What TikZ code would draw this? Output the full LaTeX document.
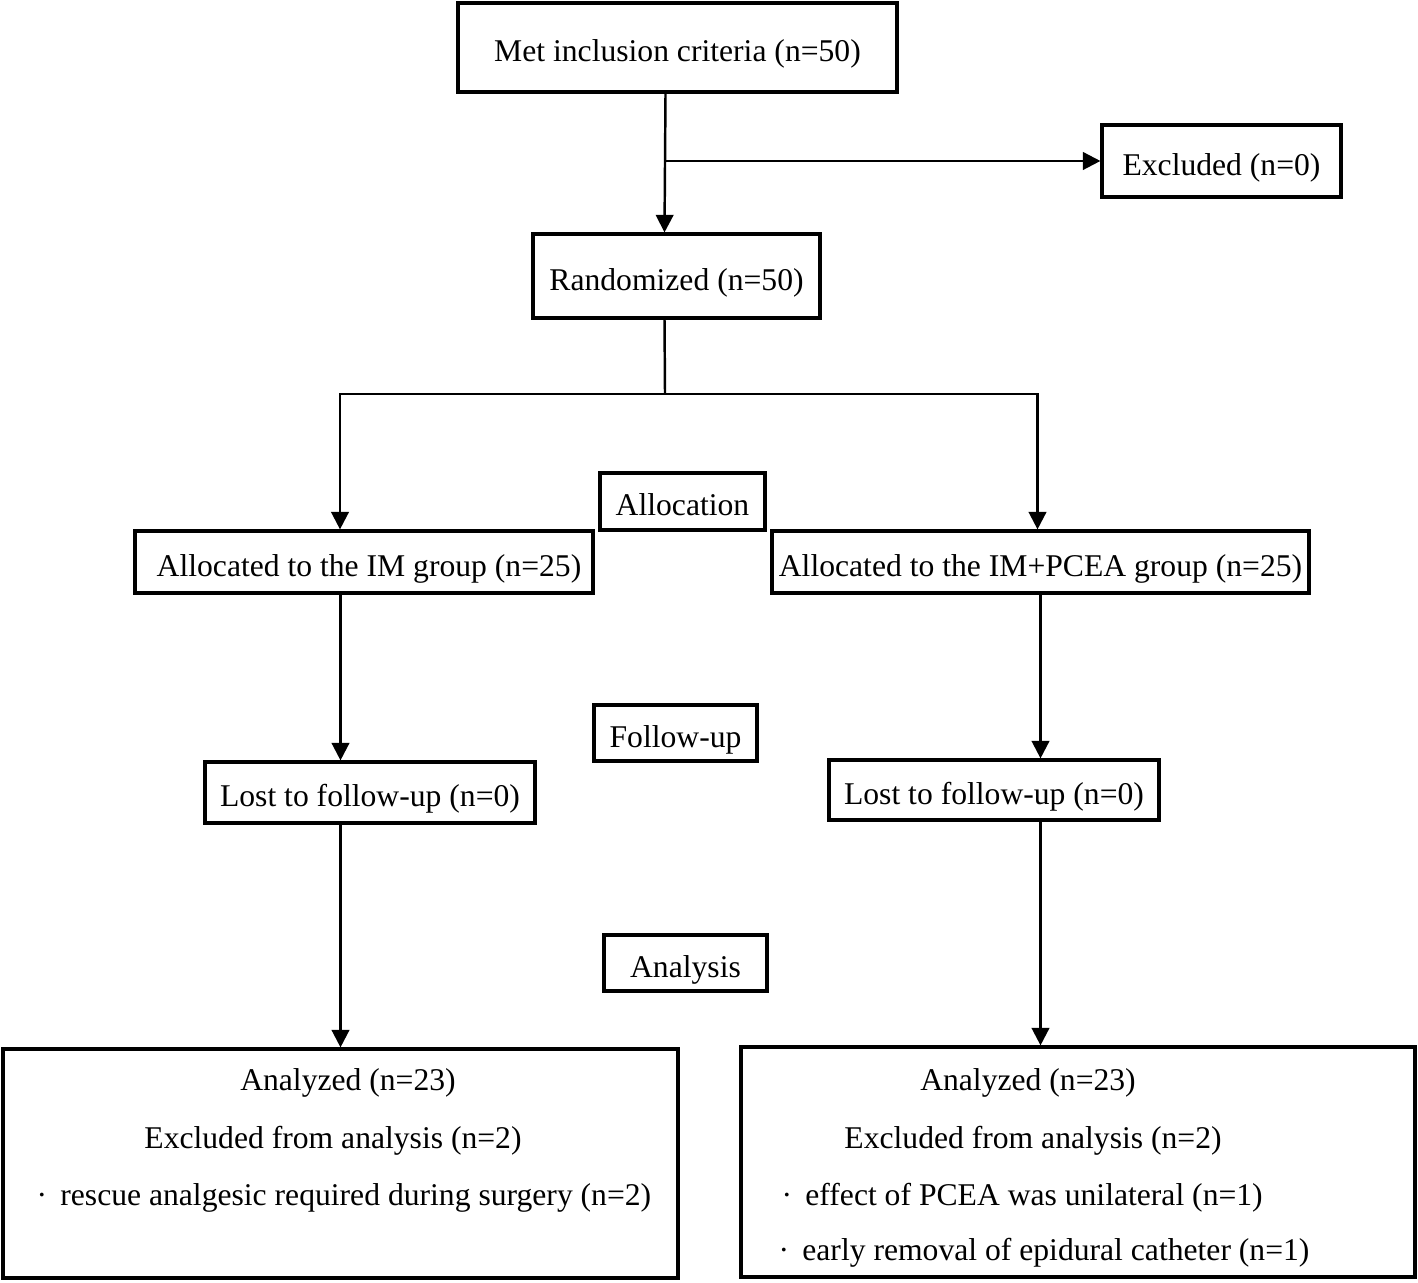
\documentclass[tikz,border=0pt]{standalone}
\usepackage{fontspec}
\setmainfont{Liberation Serif}
\usetikzlibrary{arrows.meta}

\begin{document}
\begin{tikzpicture}[>={Triangle[length=5pt,width=5pt]},
  every node/.style={font=\fontsize{9}{11}\selectfont},
  box/.style={draw,line width=0.9pt,inner sep=0pt,text height=8pt,text depth=0pt},
  txt/.style={inner sep=0pt},
  line/.style={line width=0.7pt}]
\useasboundingbox (0,0) rectangle (14.18,-12.83);
% boxes
\node[box,minimum width=4.39cm,minimum height=0.89cm] (met) at (6.775,-0.475) {Met inclusion criteria (n=50)};
\node[box,minimum width=2.39cm,minimum height=0.72cm] (excl) at (12.215,-1.61) {Excluded (n=0)};
\node[box,minimum width=2.87cm,minimum height=0.84cm] (rand) at (6.765,-2.76) {Randomized (n=50)};
\node[box,minimum width=1.65cm,minimum height=0.57cm] (alloc) at (6.825,-5.015) {Allocation};
\node[box,minimum width=4.58cm,minimum height=0.62cm] (im) at (3.64,-5.62) {\hspace*{0.1cm}Allocated to the IM group (n=25)};
\node[box,minimum width=5.37cm,minimum height=0.62cm] (pcea) at (10.405,-5.62) {Allocated to the IM+PCEA group (n=25)};
\node[box,minimum width=1.63cm,minimum height=0.56cm] (follow) at (6.755,-7.33) {Follow-up};
\node[box,minimum width=3.30cm,minimum height=0.61cm] (lostl) at (3.70,-7.925) {Lost to follow-up (n=0)};
\node[box,minimum width=3.30cm,minimum height=0.60cm] (lostr) at (9.94,-7.90) {Lost to follow-up (n=0)};
\node[box,minimum width=1.63cm,minimum height=0.56cm] (analysis) at (6.855,-9.63) {Analysis};
\node[box,minimum width=6.75cm,minimum height=2.29cm] (anl) at (3.405,-11.635) {};
\node[box,minimum width=6.74cm,minimum height=2.30cm] (anr) at (10.78,-11.62) {};
% texts of the last boxes
\node[txt,anchor=base] (anlA) at (3.48,-10.90) {Analyzed (n=23)};
\node[txt,anchor=base] (anlE) at (3.33,-11.48) {Excluded from analysis (n=2)};
\node[txt,anchor=base west] (anlR) at (0.36,-12.05) {·\ \,rescue analgesic required during surgery (n=2)};
\node[txt,anchor=base] (anrA) at (10.28,-10.90) {Analyzed (n=23)};
\node[txt,anchor=base] (anrE) at (10.33,-11.48) {Excluded from analysis (n=2)};
\node[txt,anchor=base west] (anrU) at (7.81,-12.05) {·\ \,effect of PCEA was unilateral (n=1)};
\node[txt,anchor=base west] (anrC) at (7.78,-12.60) {·\ \,early removal of epidural catheter (n=1)};
% connectors
\coordinate (split1) at (6.65,-1.61);
\coordinate (split2) at (6.65,-3.94);
\draw[line,->] ([xshift=-0.12cm]met.south) -- ([xshift=-0.12cm]rand.north);
\draw[line,->] (split1) -- (excl.west);
\draw[line] ([xshift=-0.12cm]rand.south) -- (split2);
\draw[line,->] (split2) -| ([xshift=-0.24cm]im.north);
\draw[line,->] (split2) -| ([xshift=-0.03cm]pcea.north);
\draw[line,->] (im.south -| anl.north) -- (lostl.north -| anl.north);
\draw[line,->] (lostl.south -| anl.north) -- (anl.north);
\draw[line,->] (pcea.south) -- (pcea.south |- lostr.north);
\draw[line,->] (lostr.south -| pcea.south) -- (anr.north -| pcea.south);
\end{tikzpicture}
\end{document}
